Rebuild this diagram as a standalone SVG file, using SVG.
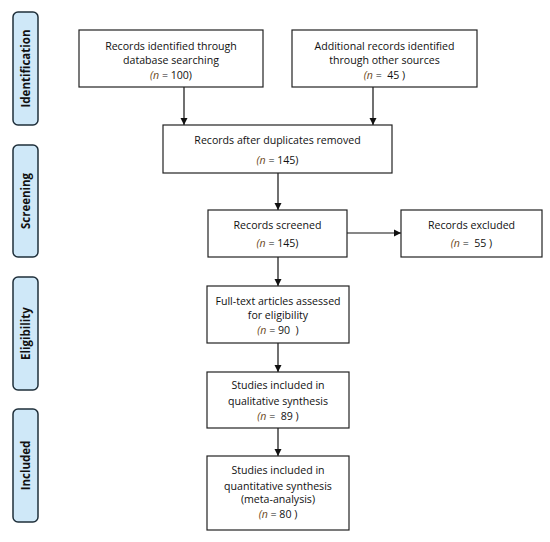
<svg xmlns="http://www.w3.org/2000/svg" width="550" height="542" viewBox="0 0 550 542">
<style>
.box{fill:#fff;stroke:#222;stroke-width:1.2}
.phase{fill:#cfe8f8;stroke:#1f2f3a;stroke-width:1.5}
.t{font-family:"Open Sans","Liberation Sans",sans-serif;font-size:10.6px;fill:#111;text-anchor:middle}
.pt{font-family:"Open Sans","Liberation Sans",sans-serif;font-size:11.5px;font-weight:bold;fill:#111;text-anchor:middle}
.n{font-style:italic;fill:#6b4a22}
.c{stroke:#111;stroke-width:1.2;fill:none;marker-end:url(#ah)}
</style>
<defs>
<marker id="ah" markerWidth="8" markerHeight="8" refX="7" refY="4" orient="auto" markerUnits="userSpaceOnUse">
<path d="M0,0.5 L7,4 L0,7.5 Z" fill="#111"/>
</marker>
</defs>
<rect width="550" height="542" fill="#fff"/>
<g id="phases">
<g id="p-identification"><rect class="phase" x="13" y="12" width="25" height="113" rx="5"/><text class="pt" transform="translate(29.5,68.5) rotate(-90)">Identification</text></g>
<g id="p-screening"><rect class="phase" x="13" y="145" width="25" height="112" rx="5"/><text class="pt" transform="translate(29.5,201) rotate(-90)">Screening</text></g>
<g id="p-eligibility"><rect class="phase" x="13" y="277" width="25" height="113" rx="5"/><text class="pt" transform="translate(29.5,333.5) rotate(-90)">Eligibility</text></g>
<g id="p-included"><rect class="phase" x="13" y="409" width="25" height="113" rx="5"/><text class="pt" transform="translate(29.5,465.5) rotate(-90)">Included</text></g>
</g>
<g id="connectors">
<line class="c" x1="184" y1="87" x2="184" y2="125"/>
<line class="c" x1="373" y1="87" x2="373" y2="125"/>
<line class="c" x1="278" y1="173" x2="278" y2="210"/>
<line class="c" x1="347" y1="233" x2="401" y2="233"/>
<line class="c" x1="278" y1="257" x2="278" y2="286"/>
<line class="c" x1="278" y1="343" x2="278" y2="372"/>
<line class="c" x1="278" y1="428" x2="278" y2="456"/>
</g>
<g id="n1"><rect class="box" x="79" y="30" width="184" height="57"/>
<text class="t" x="171" y="50">Records identified through</text>
<text class="t" x="171" y="64">database searching</text>
<text class="t" x="171" y="79"><tspan class="n">(n</tspan> = 100)</text></g>
<g id="n2"><rect class="box" x="292" y="30" width="185" height="57"/>
<text class="t" x="384.5" y="50">Additional records identified</text>
<text class="t" x="384.5" y="64">through other sources</text>
<text class="t" x="384.5" y="79" xml:space="preserve"><tspan class="n">(n</tspan> =  45 )</text></g>
<g id="n3"><rect class="box" x="163" y="125" width="229" height="48"/>
<text class="t" x="277.5" y="144">Records after duplicates removed</text>
<text class="t" x="277.5" y="164"><tspan class="n">(n</tspan> = 145)</text></g>
<g id="n4"><rect class="box" x="208" y="210" width="139" height="47"/>
<text class="t" x="277.5" y="229">Records screened</text>
<text class="t" x="277.5" y="247"><tspan class="n">(n</tspan> = 145)</text></g>
<g id="n5"><rect class="box" x="401" y="210" width="141" height="47"/>
<text class="t" x="471.5" y="229">Records excluded</text>
<text class="t" x="471.5" y="247" xml:space="preserve"><tspan class="n">(n</tspan> =  55 )</text></g>
<g id="n6"><rect class="box" x="207" y="286" width="142" height="57"/>
<text class="t" x="278" y="305">Full-text articles assessed</text>
<text class="t" x="278" y="319">for eligibility</text>
<text class="t" x="278" y="334" xml:space="preserve"><tspan class="n">(n</tspan> = 90  )</text></g>
<g id="n7"><rect class="box" x="207" y="372" width="142" height="56"/>
<text class="t" x="278" y="389">Studies included in</text>
<text class="t" x="278" y="405">qualitative synthesis</text>
<text class="t" x="278" y="420" xml:space="preserve"><tspan class="n">(n</tspan> =  89 )</text></g>
<g id="n8"><rect class="box" x="207" y="456" width="142" height="74"/>
<text class="t" x="278" y="474">Studies included in</text>
<text class="t" x="278" y="490">quantitative synthesis</text>
<text class="t" x="278" y="503">(meta-analysis)</text>
<text class="t" x="278" y="518"><tspan class="n">(n</tspan> = 80 )</text></g>
</svg>
